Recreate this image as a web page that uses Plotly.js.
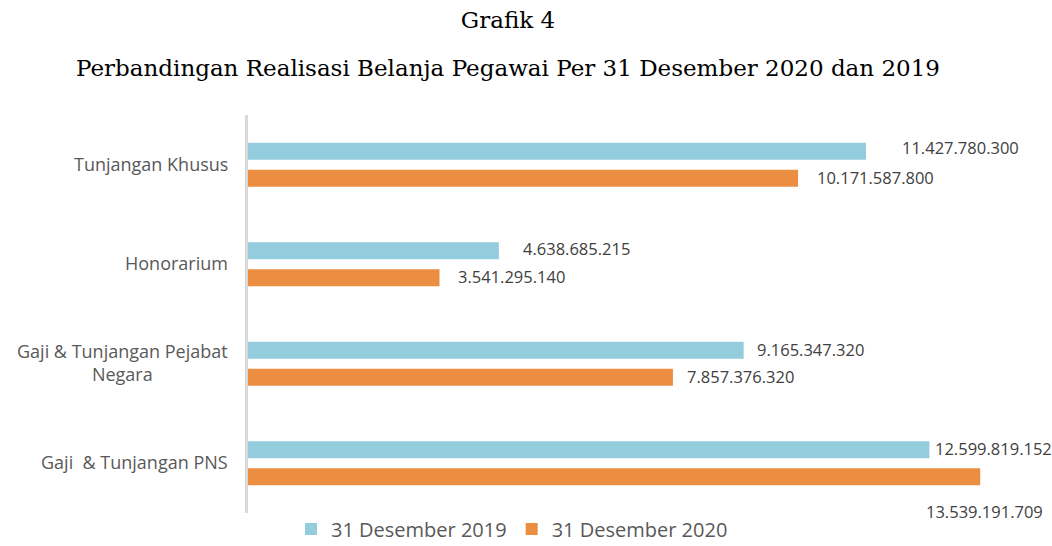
<!DOCTYPE html>
<html>
<head>
<meta charset="utf-8">
<script src="https://cdn.plot.ly/plotly-3.0.1.min.js"></script>
<style>
  html, body { margin: 0; padding: 0; background: #fff; }
  #chart { width: 1052px; height: 546px; }
</style>
</head>
<body>
<div id="chart"></div>
<script>
// categories, top to bottom
var categories = ['Tunjangan Khusus', 'Honorarium', 'Gaji & Tunjangan Pejabat<br>Negara', 'Gaji\u00a0 & Tunjangan PNS'];
var series2019 = [11427780300, 4638685215, 9165347320, 12599819152];
var series2020 = [10171587800, 3541295140, 7857376320, 13539191709];
var seriesNames = ['31 Desember 2019', '31 Desember 2020'];

var blue = '#93CDDD';
var orange = '#EB8E42';
var textGrey = '#595959';

// number format with dot thousands separator
function fmt(v) {
    return String(v).replace(/\B(?=(\d{3})+(?!\d))/g, '.');
}

var data = [
    {
        type: 'bar',
        orientation: 'h',
        name: seriesNames[0],
        y: categories,
        x: series2019,
        marker: { color: blue },
        hoverinfo: 'none'
    },
    {
        type: 'bar',
        orientation: 'h',
        name: seriesNames[1],
        y: categories,
        x: series2020,
        marker: { color: orange },
        hoverinfo: 'none'
    }
];

// label offsets (px) so the labels sit where the original put them
var shift2019 = [{ dx: 34, dy: 17 }, { dx: 22, dy: 16 }, { dx: 11, dy: 14 }, { dx: 4, dy: 15 }];
var shift2020 = [{ dx: 17, dy: -13 }, { dx: 16, dy: -12 }, { dx: 12, dy: -13 }, { dx: -56, dy: -48 }];

var labelFont = { family: 'Open Sans, sans-serif', size: 16.5, color: '#404040' };

var annotations = [];
categories.forEach(function (c, i) {
    annotations.push({
        x: series2019[i], y: c, xref: 'x', yref: 'y',
        text: fmt(series2019[i]), showarrow: false,
        xanchor: 'left', yanchor: 'middle',
        xshift: shift2019[i].dx, yshift: shift2019[i].dy,
        font: labelFont
    });
    annotations.push({
        x: series2020[i], y: c, xref: 'x', yref: 'y',
        text: fmt(series2020[i]), showarrow: false,
        xanchor: 'left', yanchor: 'middle',
        xshift: shift2020[i].dx, yshift: shift2020[i].dy,
        font: labelFont
    });
    // category label, centred lines like the original
    annotations.push({
        x: 0, y: c, xref: 'paper', yref: 'y',
        text: c, showarrow: false,
        xanchor: 'right', yanchor: 'middle', align: 'center',
        xshift: -18, yshift: 1,
        font: { family: 'Open Sans, sans-serif', size: 18, color: textGrey }
    });
});

// subtitle line
annotations.push({
    x: (508 - 248) / 784, y: 1, xref: 'paper', yref: 'paper',
    yshift: 47, xanchor: 'center', yanchor: 'middle',
    text: 'Perbandingan Realisasi Belanja Pegawai Per 31 Desember 2020 dan 2019',
    showarrow: false,
    font: { family: 'DejaVu Serif, serif', size: 23, color: '#000' }
});

var layout = {
    width: 1052,
    height: 546,
    margin: { l: 248, r: 20, t: 115, b: 33, autoexpand: false },
    paper_bgcolor: '#fff',
    plot_bgcolor: '#fff',
    title: {
        text: 'Grafik 4',
        x: 508 / 1052, xanchor: 'center',
        y: 1 - 20 / 546, yanchor: 'middle',
        font: { family: 'DejaVu Serif, serif', size: 23, color: '#000' }
    },
    barmode: 'group',
    bargap: 0.457,
    bargroupgap: 0.37,
    xaxis: {
        range: [0, 14.497e9],
        showgrid: false,
        zeroline: false,
        showticklabels: false,
        showline: false,
        fixedrange: true
    },
    yaxis: {
        autorange: 'reversed',
        showticklabels: false,
        showgrid: false,
        showline: true,
        linecolor: '#D9D9D9',
        linewidth: 3,
        ticks: '',
        fixedrange: true
    },
    showlegend: true,
    legend: {
        orientation: 'h',
        x: (512 - 248) / 784, xanchor: 'center',
        y: -0.04, yanchor: 'middle',
        font: { family: 'Open Sans, sans-serif', size: 20, color: textGrey },
        itemwidth: 30,
        tracegroupgap: 0,
        traceorder: 'normal'
    },
    annotations: annotations
};

Plotly.newPlot('chart', data, layout, { displayModeBar: false, staticPlot: true });
</script>
</body>
</html>
